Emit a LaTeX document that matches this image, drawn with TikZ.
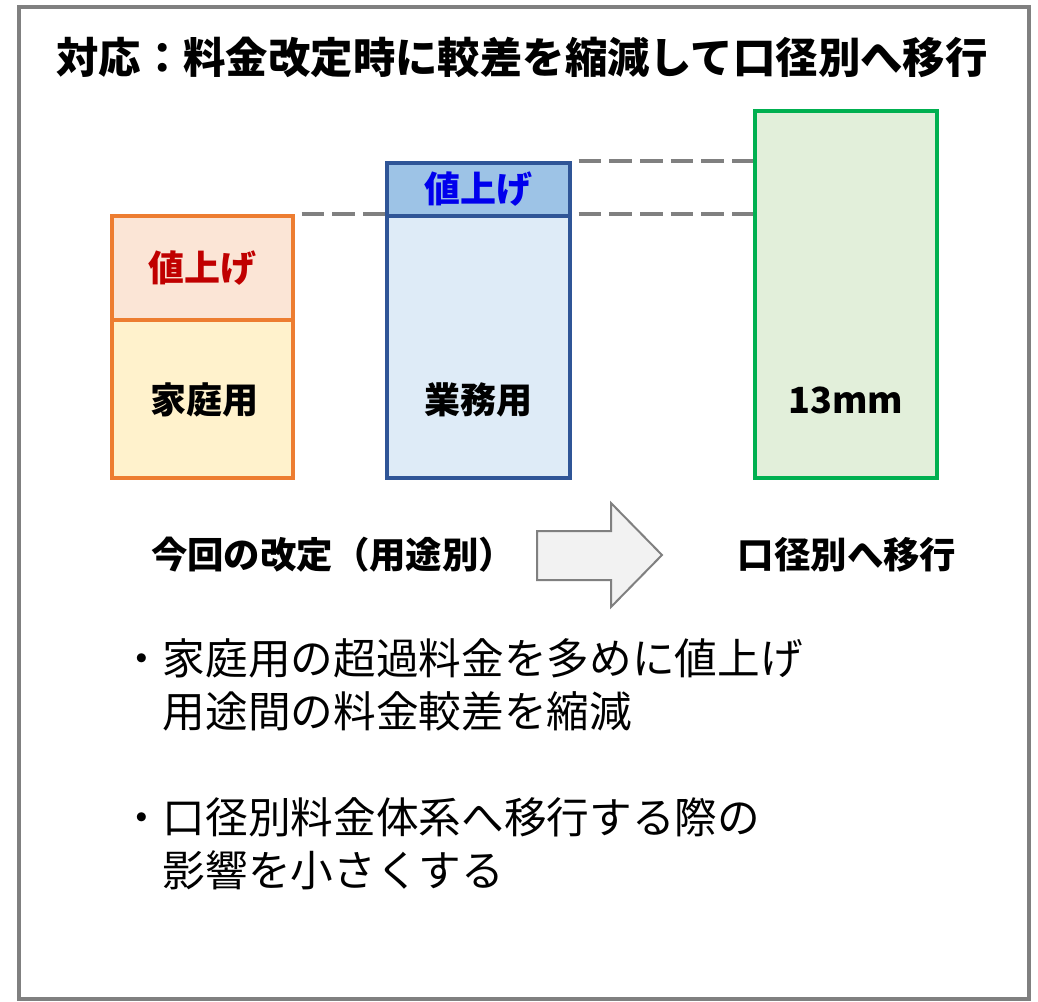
\documentclass[tikz,border=0pt]{standalone}
\usepackage{fontspec}
\setmainfont{Noto Sans CJK JP}
\definecolor{orangeline}{HTML}{ED7D31}
\definecolor{orangeup}{HTML}{FBE5D6}
\definecolor{orangelow}{HTML}{FFF2CC}
\definecolor{blueline}{HTML}{2F5597}
\definecolor{blueup}{HTML}{9DC3E6}
\definecolor{bluelow}{HTML}{DEEBF7}
\definecolor{greenline}{HTML}{00B050}
\definecolor{greenfill}{HTML}{E2EFDA}
\definecolor{darkred}{HTML}{C00000}
\definecolor{framegray}{HTML}{808080}

\begin{document}
\begin{tikzpicture}[
    x=0.75pt, y=-0.75pt,
    bar/.style = {draw, line width=3pt, inner sep=0pt, minimum width=#1},
    bar/.default = 136pt,
    barlabel/.style = {font=\bfseries\fontsize{27}{32}\selectfont, inner sep=0pt},
    caption/.style = {font=\bfseries\fontsize{27.3}{32}\selectfont, inner sep=0pt},
    bullet/.style = {font=\fontsize{32}{40}\selectfont, align=left, anchor=west, inner sep=0pt},
    level/.style = {draw=framegray, line width=3pt, dash pattern=on 17pt off 6pt},
    blockarrow/.style = {draw=framegray, fill=black!5, line width=1.5pt, line join=miter}
     ]
  \useasboundingbox (0,0) rectangle (1038,1002);
  \draw[framegray, line width=3pt] (19,7) rectangle (1029,999);

  \node[font=\bfseries\fontsize{31.8}{38}\selectfont] (title) at (522,57)
    {対応：料金改定時に較差を縮減して口径別へ移行};

  % home use
  \node[bar=135.75pt, draw=orangeline, fill=orangeup, minimum height=78pt] (ku) at (202.5,268) {};
  \node[bar=135.75pt, draw=orangeline, fill=orangelow, minimum height=118.5pt] (kl) at (202.5,399) {};
  \node[barlabel, text=darkred] at (ku) {値上げ};
  \node[barlabel] at (204,400) {家庭用};

  % business use
  \node[bar=137.25pt, draw=blueline, fill=blueup, minimum height=39.75pt] (bu) at (478.5,189.5) {};
  \node[bar=137.25pt, draw=blueline, fill=bluelow, minimum height=196.5pt] (bl) at (478.5,347) {};
  \node[barlabel, text=blue!93!black] at (bu) {値上げ};
  \node[barlabel] at (478,400) {業務用};

  % bore size
  \node[bar=136.5pt, draw=greenline, fill=greenfill, minimum height=275.25pt] (gr) at (846,294.5) {};
  \node[barlabel] at (846,400) {13mm};

  \draw[level, shorten <=5pt] (ku.north east) -- (bl.north west);
  \draw[level, shorten <=5pt] (bu.north east) -- (bu.north east -| gr.west);
  \draw[level, shorten <=5pt] (bl.north east) -- (bl.north east -| gr.west);

  \node[caption] (now) at (333,555) {今回の改定（用途別）};
  \node[caption] (next) at (847,555) {口径別へ移行};
  \draw[blockarrow] (537,531) -- (611,531) -- (611,503) -- (662,555)
    -- (611,607) -- (611,580) -- (537,580) -- cycle;

  \node[bullet] (b1) at (120,685)
    {・家庭用の超過料金を多めに値上げ\\\hspace*{1em}用途間の料金較差を縮減};
  \node[bullet] (b2) at (120,844)
    {・口径別料金体系へ移行する際の\\\hspace*{1em}影響を小さくする};
\end{tikzpicture}
\end{document}
